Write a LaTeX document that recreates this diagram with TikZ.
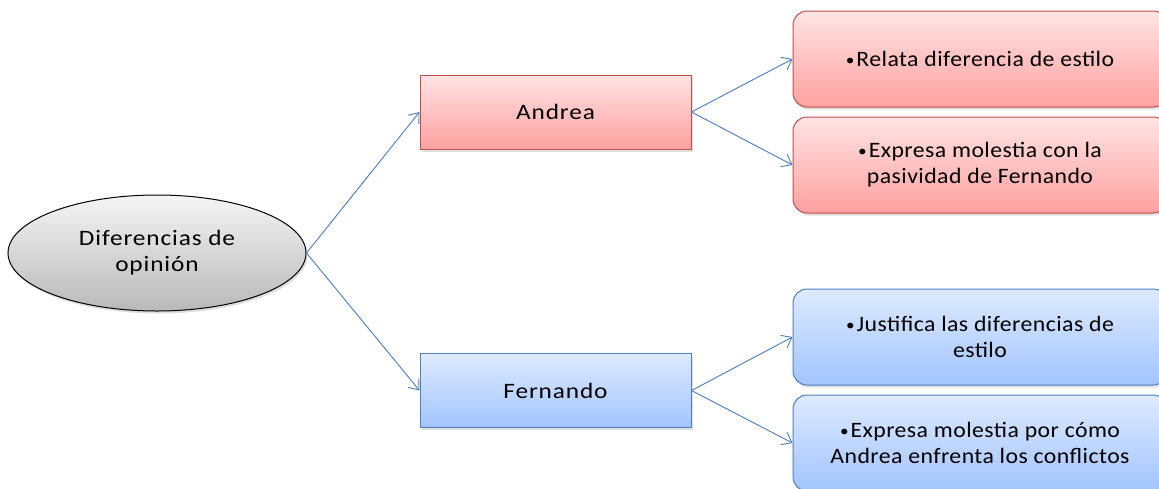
\documentclass[tikz,border=0pt]{standalone}
\usepackage{fontspec}
\setmainfont{Carlito}
\usetikzlibrary{shapes.geometric,shadows,arrows.meta}
\definecolor{redtop}{RGB}{255,228,228}
\definecolor{redbot}{RGB}{255,160,160}
\definecolor{redline}{RGB}{192,80,77}
\definecolor{bluetop}{RGB}{222,234,255}
\definecolor{bluebot}{RGB}{162,196,255}
\definecolor{blueline}{RGB}{79,129,189}
\definecolor{arrowcol}{RGB}{74,126,187}
\newfontfamily\widefont[FakeStretch=1.15,LetterSpace=4]{Carlito}
\newfontfamily\leaffont[FakeStretch=1.08,LetterSpace=2]{Carlito}
\newcommand{\bul}{{\raisebox{1pt}{\fontsize{16}{16}\selectfont\textbullet}}\hspace{2pt}}
\tikzset{
  shadowed/.style={drop shadow={shadow xshift=1.5pt, shadow yshift=-2.5pt, opacity=0.25}},
  basebox/.style={align=center, line width=1pt, shadowed},
  redbox/.style={basebox, draw=redline, top color=redtop, bottom color=redbot},
  bluebox/.style={basebox, draw=blueline, top color=bluetop, bottom color=bluebot},
  midbox/.style={rectangle, minimum width=271pt, minimum height=74pt, font=\widefont\fontsize{22}{26}\selectfont},
  leafbox/.style={rectangle, rounded corners=14pt, minimum width=374pt, minimum height=96pt, font=\leaffont\fontsize{22}{26}\selectfont},
  rootnode/.style={ellipse, draw=black, line width=1pt, top color=gray!8, bottom color=gray!55,
    minimum width=298pt, minimum height=116pt, font=\widefont\fontsize{22}{26}\selectfont, align=center, shadowed},
  conn/.style={draw=arrowcol, line width=0.9pt, -{Straight Barb[length=9pt,width=14pt,line width=0.9pt]}}
}
\begin{document}
\begin{tikzpicture}[x=1pt,y=-1pt]
\useasboundingbox (0,0) rectangle (1159,488);
\node[rootnode] (root) at (157,253) {Diferencias de\\opinión};
\node[redbox, midbox] (andrea) at (555.5,112) {Andrea};
\node[bluebox, midbox] (fernando) at (555.5,390.5) {Fernando};
\node[redbox, leafbox] (a1) at (980,59) {\bul Relata diferencia de estilo};
\node[redbox, leafbox] (a2) at (980,165) {\bul Expresa molestia con la\\pasividad de Fernando};
\node[bluebox, leafbox] (f1) at (980,337) {\bul Justifica las diferencias de\\estilo};
\node[bluebox, leafbox] (f2) at (980,443) {\bul Expresa molestia por cómo\\Andrea enfrenta los conflictos};
\draw[conn] (root.east) -- (andrea.west);
\draw[conn] (root.east) -- (fernando.west);
\draw[conn] (andrea.east) -- (a1.west);
\draw[conn] (andrea.east) -- (a2.west);
\draw[conn] (fernando.east) -- (f1.west);
\draw[conn] (fernando.east) -- (f2.west);
\end{tikzpicture}
\end{document}
